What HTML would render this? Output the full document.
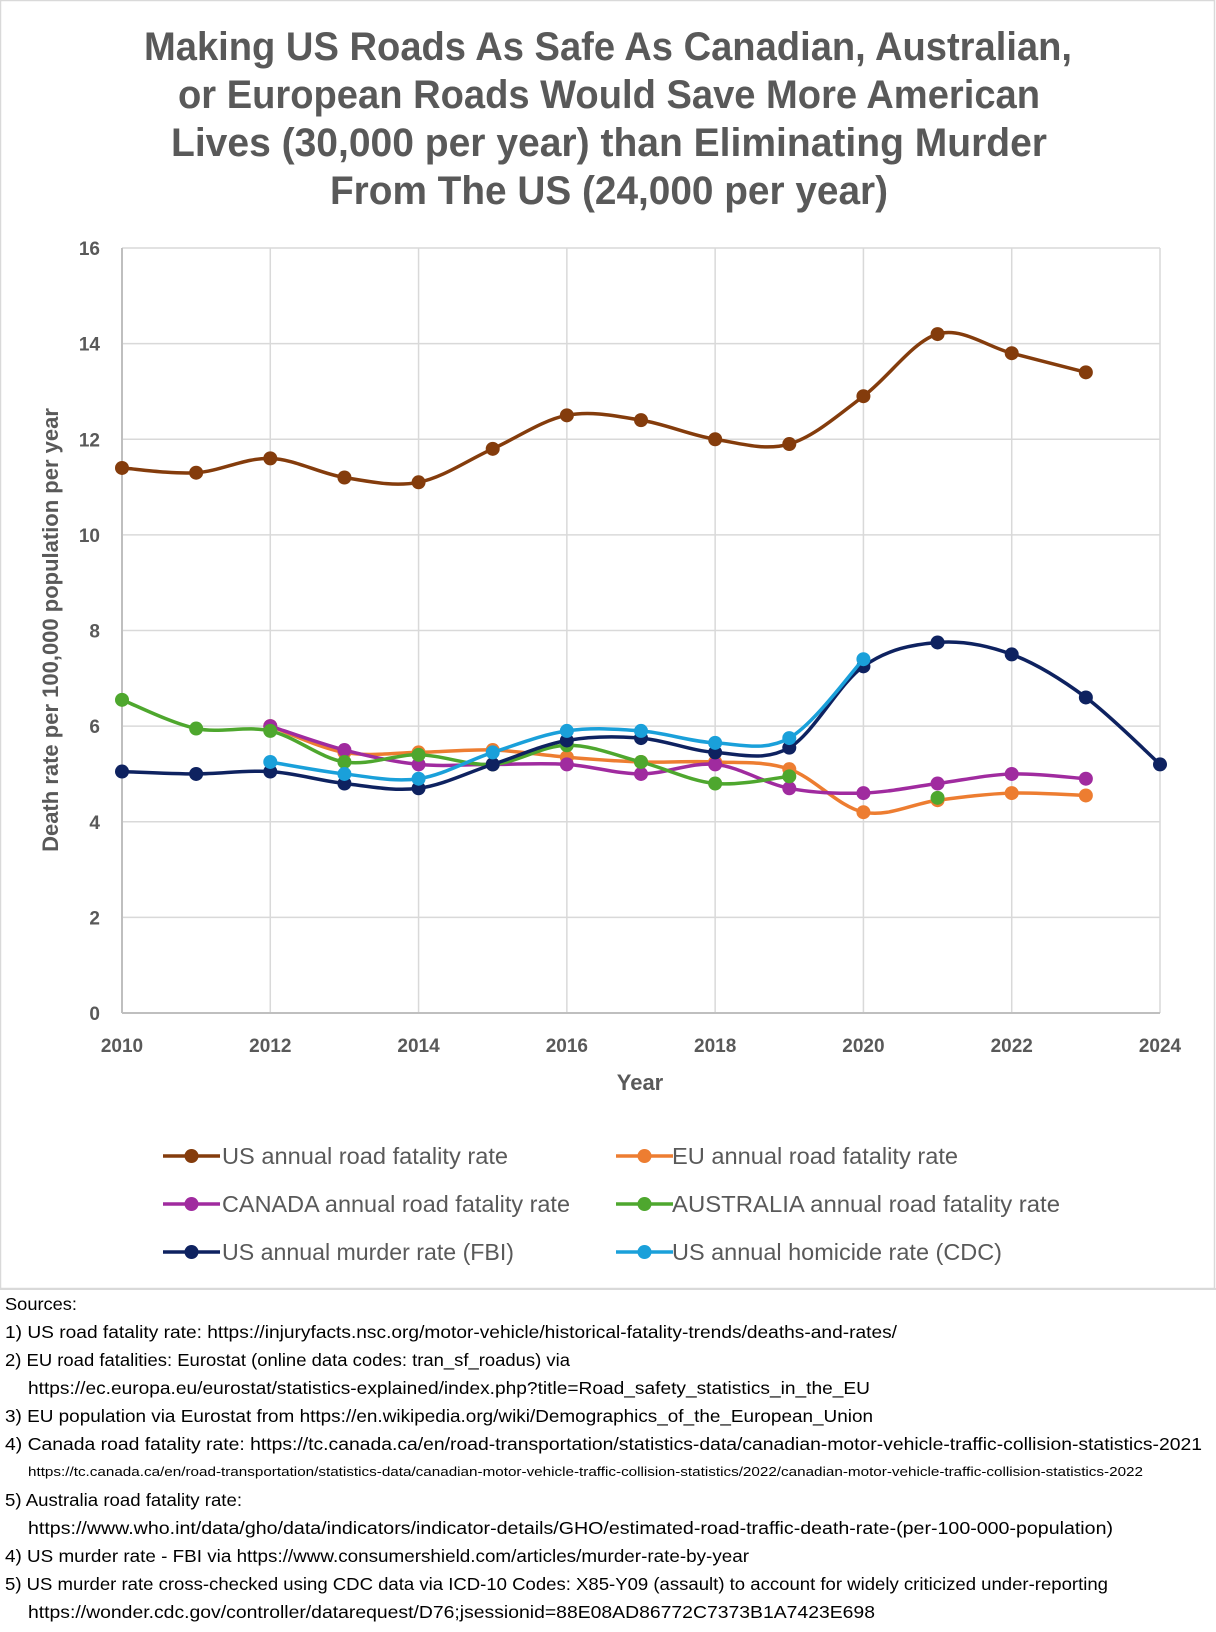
<!DOCTYPE html>
<html><head><meta charset="utf-8"><style>
html,body{margin:0;padding:0;background:#fff;}
svg{display:block;font-family:"Liberation Sans",sans-serif;}
</style></head><body>
<svg id="s" width="1216" height="1632" viewBox="0 0 1216 1632" xmlns="http://www.w3.org/2000/svg">
<rect x="0.5" y="0.5" width="1214" height="1288" fill="#fff" stroke="#d9d9d9" stroke-width="1.5"/>
<g fill="#595959" font-weight="bold" font-size="40" text-anchor="start">
<text x="144" y="60" textLength="928" lengthAdjust="spacingAndGlyphs">Making US Roads As Safe As Canadian, Australian,</text>
<text x="178" y="108" textLength="862" lengthAdjust="spacingAndGlyphs">or European Roads Would Save More American</text>
<text x="171" y="156" textLength="876" lengthAdjust="spacingAndGlyphs">Lives (30,000 per year) than Eliminating Murder</text>
<text x="330" y="204" textLength="558" lengthAdjust="spacingAndGlyphs">From The US (24,000 per year)</text>
</g>
<g id="grid" stroke="#d9d9d9" stroke-width="1.5"></g>
<g id="ticks" fill="#595959" font-weight="bold" font-size="19"></g>
<text x="640" y="1090" fill="#595959" font-weight="bold" font-size="22" text-anchor="middle">Year</text>
<text transform="translate(58,630) rotate(-90)" fill="#595959" font-weight="bold" font-size="22" text-anchor="middle">Death rate per 100,000 population per year</text>
<g id="series"></g>
<g id="legend" font-size="23.5" fill="#595959"></g>
<line x1="0" y1="1289" x2="1216" y2="1289" stroke="#d9d9d9" stroke-width="2"/>
<g fill="#000" font-size="17.5">
<text x="5" y="1310" textLength="72" lengthAdjust="spacingAndGlyphs">Sources:</text>
<text x="5" y="1338" textLength="892" lengthAdjust="spacingAndGlyphs">1) US road fatality rate: https://injuryfacts.nsc.org/motor-vehicle/historical-fatality-trends/deaths-and-rates/</text>
<text x="5" y="1366" textLength="565" lengthAdjust="spacingAndGlyphs">2) EU road fatalities: Eurostat (online data codes: tran_sf_roadus) via</text>
<text x="28" y="1394" textLength="842" lengthAdjust="spacingAndGlyphs">https://ec.europa.eu/eurostat/statistics-explained/index.php?title=Road_safety_statistics_in_the_EU</text>
<text x="5" y="1422" textLength="868" lengthAdjust="spacingAndGlyphs">3) EU population via Eurostat from https://en.wikipedia.org/wiki/Demographics_of_the_European_Union</text>
<text x="5" y="1450" textLength="1197" lengthAdjust="spacingAndGlyphs">4) Canada road fatality rate: https://tc.canada.ca/en/road-transportation/statistics-data/canadian-motor-vehicle-traffic-collision-statistics-2021</text>
<text x="28" y="1476" font-size="13" textLength="1115" lengthAdjust="spacingAndGlyphs">https://tc.canada.ca/en/road-transportation/statistics-data/canadian-motor-vehicle-traffic-collision-statistics/2022/canadian-motor-vehicle-traffic-collision-statistics-2022</text>
<text x="5" y="1506" textLength="237" lengthAdjust="spacingAndGlyphs">5) Australia road fatality rate:</text>
<text x="28" y="1534" textLength="1085" lengthAdjust="spacingAndGlyphs">https://www.who.int/data/gho/data/indicators/indicator-details/GHO/estimated-road-traffic-death-rate-(per-100-000-population)</text>
<text x="5" y="1562" textLength="744" lengthAdjust="spacingAndGlyphs">4) US murder rate - FBI via https://www.consumershield.com/articles/murder-rate-by-year</text>
<text x="5" y="1590" textLength="1103" lengthAdjust="spacingAndGlyphs">5) US murder rate cross-checked using CDC data via ICD-10 Codes: X85-Y09 (assault) to account for widely criticized under-reporting</text>
<text x="28" y="1618" textLength="847" lengthAdjust="spacingAndGlyphs">https://wonder.cdc.gov/controller/datarequest/D76;jsessionid=88E08AD86772C7373B1A7423E698</text>
</g>
</svg>
<script>
var NS="http://www.w3.org/2000/svg";
function el(p,t,a,txt){var e=document.createElementNS(NS,t);for(var k in a)e.setAttribute(k,a[k]);if(txt!=null)e.textContent=txt;document.getElementById(p).appendChild(e);return e;}
var X0=122,XS=(1160-122)/14,Y0=1013,YS=(1013-248)/16;
function X(y){return X0+(y-2010)*XS}function Y(v){return Y0-v*YS}
for(var v=2;v<=16;v+=2)el("grid","line",{x1:X0,x2:1160,y1:Y(v),y2:Y(v)});
for(var y=2012;y<=2024;y+=2)el("grid","line",{x1:X(y),x2:X(y),y1:Y(16),y2:Y0});
el("grid","line",{x1:X0,x2:X0,y1:Y(16),y2:Y0,stroke:"#bfbfbf",'stroke-width':2});
el("grid","line",{x1:X0,x2:1160,y1:Y0,y2:Y0,stroke:"#bfbfbf",'stroke-width':2});
for(var v=0;v<=16;v+=2)el("ticks","text",{x:100,y:Y(v)+7,'text-anchor':"end"},v);
for(var y=2010;y<=2024;y+=2)el("ticks","text",{x:X(y),y:1052,'text-anchor':"middle"},y);
var S=[
["#843C0C",2010,[11.4,11.3,11.6,11.2,11.1,11.8,12.5,12.4,12.0,11.9,12.9,14.2,13.8,13.4]],
["#ED7D31",2012,[6.0,5.45,5.45,5.5,5.35,5.25,5.25,5.1,4.2,4.45,4.6,4.55]],
["#A02B9F",2012,[6.0,5.5,5.2,5.2,5.2,5.0,5.2,4.7,4.6,4.8,5.0,4.9]],
["#4EA72E",2010,[6.55,5.95,5.9,5.25,5.4,5.2,5.6,5.25,4.8,4.95,null,4.5]],
["#0E2260",2010,[5.05,5.0,5.05,4.8,4.7,5.2,5.7,5.75,5.45,5.55,7.25,7.75,7.5,6.6,5.2]],
["#1AA0DA",2012,[5.25,5.0,4.9,5.45,5.9,5.9,5.65,5.75,7.4]]];
function path(pts){var d="M"+pts[0][0]+","+pts[0][1];for(var i=0;i<pts.length-1;i++){var p0=pts[i-1]||pts[i],p1=pts[i],p2=pts[i+1],p3=pts[i+2]||p2;var t=0.5/3*2;
d+=" C"+(p1[0]+(p2[0]-p0[0])*t/2)+","+(p1[1]+(p2[1]-p0[1])*t/2)+" "+(p2[0]-(p3[0]-p1[0])*t/2)+","+(p2[1]-(p3[1]-p1[1])*t/2)+" "+p2[0]+","+p2[1];}return d}
S.forEach(function(s){var segs=[],cur=[];s[2].forEach(function(v,i){if(v==null){if(cur.length)segs.push(cur);cur=[];}else cur.push([X(s[1]+i),Y(v)]);});if(cur.length)segs.push(cur);
segs.forEach(function(g){if(g.length>1)el("series","path",{d:path(g),fill:"none",stroke:s[0],'stroke-width':3.5});});
segs.forEach(function(g){g.forEach(function(p){el("series","circle",{cx:p[0],cy:p[1],r:7,fill:s[0]});});});});
var L=[["US annual road fatality rate",0,0,286],["EU annual road fatality rate",0,1,286],["CANADA annual road fatality rate",2,0,348],["AUSTRALIA annual road fatality rate",3,1,388],["US annual murder rate (FBI)",4,0,292],["US annual homicide rate (CDC)",5,1,330]];
var lx=[[163,222],[616,672]];var ly=[1156,1204,1252];
L.forEach(function(l,i){var c=S[i][0];var col=l[2],row=Math.floor(i/2);var x=lx[col];var yy=ly[row];
el("legend","line",{x1:x[0],x2:x[0]+57,y1:yy,y2:yy,stroke:c,'stroke-width':3.5});
el("legend","circle",{cx:x[0]+28.5,cy:yy,r:7,fill:c});
el("legend","text",{x:x[1],y:yy+8,textLength:l[3],lengthAdjust:"spacingAndGlyphs"},l[0]);});
</script>
</body></html>
